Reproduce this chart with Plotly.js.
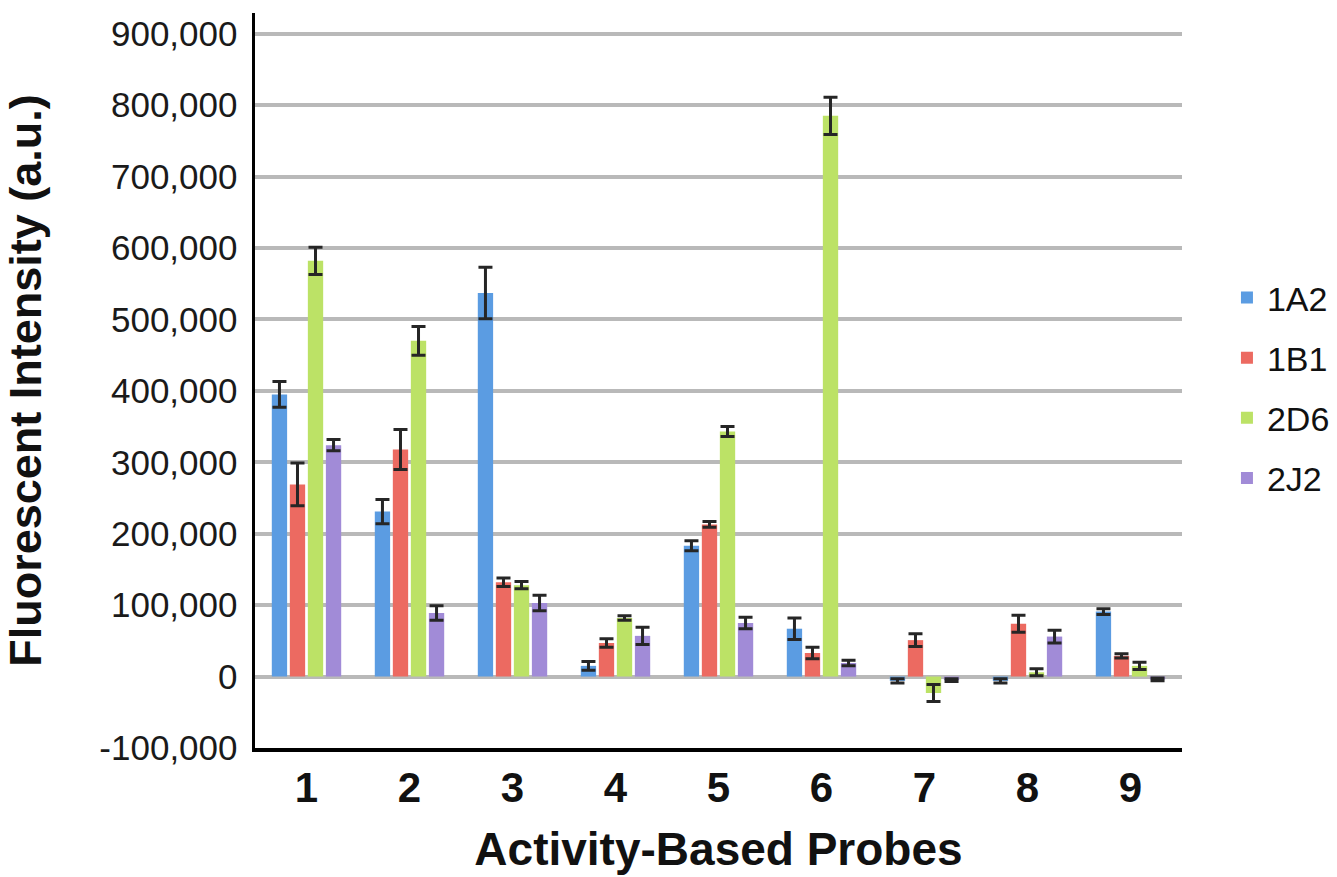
<!DOCTYPE html>
<html>
<head>
<meta charset="utf-8">
<script src="https://cdn.plot.ly/plotly-3.0.1.min.js"></script>
<style>
  html, body { margin: 0; padding: 0; background: #ffffff; }
  #chart { width: 1337px; height: 877px; }
</style>
</head>
<body>
<div id="chart"></div>
<script>
// Categories (activity-based probes)
const probes = ["1", "2", "3", "4", "5", "6", "7", "8", "9"];

// Series names
const seriesNames = ["1A2", "1B1", "2D6", "2J2"];

// Mean fluorescent intensity (a.u.)
const values1A2 = [395000, 231000, 537000, 15000, 183000, 67000, -6000, -6000, 91000];
const values1B1 = [269000, 318000, 132000, 47000, 213000, 33000, 51000, 74000, 29000];
const values2D6 = [582000, 470000, 128000, 82000, 343000, 785000, -23000, 6000, 15000];
const values2J2 = [324000, 89000, 103000, 57000, 75000, 19000, -5000, 56000, -4000];

// Error (± half-range)
const err1A2 = [18000, 17000, 36000, 6000, 7000, 15000, 3000, 3000, 4000];
const err1B1 = [30000, 28000, 6000, 6000, 4000, 8000, 9000, 12000, 3000];
const err2D6 = [19000, 20000, 5000, 3000, 7000, 26000, 12000, 5000, 5000];
const err2J2 = [8000, 10000, 11000, 12000, 8000, 4000, 2000, 9000, 2000];

// Y tick values and labels
const yTickVals = [-100000, 0, 100000, 200000, 300000, 400000, 500000, 600000, 700000, 800000, 900000];
const yTickLabels = ["-100,000", "0", "100,000", "200,000", "300,000", "400,000", "500,000", "600,000", "700,000", "800,000", "900,000"];

const colors = ["#5b9ce2", "#ec6a61", "#bce266", "#a18bd7"];
const allValues = [values1A2, values1B1, values2D6, values2J2];
const allErrors = [err1A2, err1B1, err2D6, err2J2];

const FONT = "'Liberation Sans', Arial, Helvetica, sans-serif";

const traces = seriesNames.map((name, i) => ({
  type: "bar",
  name: name,
  x: probes,
  y: allValues[i],
  legendgroup: name,
  marker: { color: colors[i], line: { width: 0 } },
  error_y: {
    type: "data",
    array: allErrors[i],
    visible: true,
    color: "#262626",
    thickness: 3,
    width: 7
  },
  hoverinfo: "x+y+name"
}));

const layout = {
  width: 1337,
  height: 877,
  paper_bgcolor: "#ffffff",
  plot_bgcolor: "#ffffff",
  font: { family: FONT, color: "#111111" },
  margin: { l: 255, r: 155, t: 13, b: 129, autoexpand: false },
  barmode: "group",
  bargap: 0.3,
  bargroupgap: 0.15,
  showlegend: true,
  legend: {
    x: 1.0485,
    xanchor: "left",
    y: 0.49,
    yanchor: "middle",
    font: { family: FONT, size: 34, color: "#111111" },
    traceorder: "grouped",
    tracegroupgap: 13,
    bgcolor: "rgba(0,0,0,0)"
  },
  xaxis: {
    type: "category",
    showline: true,
    linecolor: "#000000",
    linewidth: 3.5,
    showgrid: false,
    ticks: "",
    tickfont: { family: FONT, size: 42, color: "#111111", weight: "bold" },
    ticklabelstandoff: 0,
    title: {
      text: "<b>Activity-Based Probes</b>",
      font: { family: FONT, size: 46, color: "#111111" },
      standoff: 24
    },
    fixedrange: true
  },
  yaxis: {
    range: [-100000, 929000],
    tickvals: yTickVals,
    ticktext: yTickLabels,
    showline: true,
    linecolor: "#000000",
    linewidth: 3.5,
    showgrid: true,
    gridcolor: "#b9b9b9",
    gridwidth: 4,
    zeroline: true,
    zerolinecolor: "#b9b9b9",
    zerolinewidth: 4,
    ticks: "",
    ticklabelstandoff: 7,
    tickfont: { family: FONT, size: 35, color: "#1a1a1a" },
    title: {
      text: "<b>Fluorescent Intensity (a.u.)</b>",
      font: { family: FONT, size: 45, color: "#111111" },
      standoff: 46
    },
    fixedrange: true
  }
};

Plotly.newPlot("chart", traces, layout, { displayModeBar: false, staticPlot: true });
</script>
</body>
</html>
